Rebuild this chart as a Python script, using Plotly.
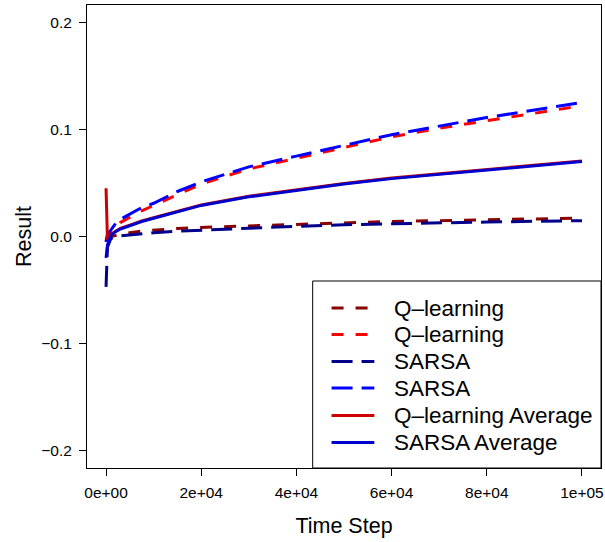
import plotly.graph_objects as go

# Time steps
t = [0, 300, 1000, 2000, 3000, 5000, 7500, 10000, 15000, 20000, 30000,
     40000, 50000, 60000, 70000, 80000, 90000, 100000]

q_run1 = [-0.003, -0.001, 0.0, 0.001, 0.002, 0.0035, 0.005, 0.006, 0.0075, 0.0085, 0.010,
          0.0115, 0.0128, 0.014, 0.0148, 0.0157, 0.0165, 0.0172]
q_run2 = [-0.005, 0.0, 0.004, 0.009, 0.013, 0.018, 0.024, 0.029, 0.039, 0.049, 0.063,
          0.073, 0.083, 0.093, 0.101, 0.108, 0.115, 0.122]
s_run1 = [-0.047, -0.01, -0.002, 0.0, 0.0005, 0.0015, 0.0025, 0.0035, 0.005, 0.006, 0.0078,
          0.0095, 0.011, 0.012, 0.0128, 0.0135, 0.0142, 0.0148]
s_run2 = [-0.005, 0.002, 0.006, 0.012, 0.016, 0.021, 0.027, 0.031, 0.042, 0.051, 0.065,
          0.075, 0.085, 0.095, 0.103, 0.111, 0.118, 0.125]
q_avg = [0.045, -0.003, 0.002, 0.005, 0.0075, 0.0105, 0.0145, 0.0175, 0.0235, 0.0295, 0.0375,
         0.0435, 0.0495, 0.0545, 0.0585, 0.0625, 0.0665, 0.0705]
s_avg = [-0.02, -0.008, 0.001, 0.0045, 0.007, 0.010, 0.014, 0.017, 0.023, 0.029, 0.037,
         0.043, 0.049, 0.054, 0.058, 0.062, 0.066, 0.070]

x_ticks = [0, 20000, 40000, 60000, 80000, 100000]
x_tick_labels = ["0e+00", "2e+04", "4e+04", "6e+04", "8e+04", "1e+05"]
y_ticks = [-0.2, -0.1, 0.0, 0.1, 0.2]
y_tick_labels = ["\u22120.2", "\u22120.1", "0.0", "0.1", "0.2"]

series = [
    ("Q\u2013learning", q_run1, "#8B0000", "12px,12px"),
    ("Q\u2013learning", q_run2, "#FF0000", "12px,12px"),
    ("SARSA", s_run1, "#00008B", "21px,9px"),
    ("SARSA", s_run2, "#0000FF", "21px,9px"),
    ("Q\u2013learning Average", q_avg, "#CD0000", "solid"),
    ("SARSA Average", s_avg, "#0000CD", "solid"),
]

FONT = "Liberation Sans, Arial, Helvetica, sans-serif"
W, H = 605, 542
L, R, T, B = 87, 1, 5, 74

fig = go.Figure()
for name, ys, col, dash in series:
    fig.add_trace(go.Scatter(x=t, y=ys, mode="lines", name=name, showlegend=False,
                             line=dict(color=col, width=3, dash=dash)))

# manual legend (R style, bottom-right)
pw, ph = W - L - R, H - T - B
def px(xp):
    return (xp - L) / pw
def py(yp):
    return (H - B - yp) / ph

shapes = [dict(type="rect", xref="paper", yref="paper", x0=px(314), x1=1.0,
               y0=0.0, y1=py(281), line=dict(color="black", width=1),
               fillcolor="white", layer="above")]
annotations = []
row_y = [308, 334.5, 361.5, 388, 415.5, 442.5]
for (name, ys, col, dash), ry in zip(series, row_y):
    shapes.append(dict(type="line", xref="paper", yref="paper", x0=px(333), x1=px(376),
                       y0=py(ry), y1=py(ry), line=dict(color=col, width=3, dash=dash),
                       layer="above"))
    annotations.append(dict(xref="paper", yref="paper", x=px(394), y=py(ry), text=name,
                            showarrow=False, xanchor="left", yanchor="middle",
                            font=dict(family=FONT, size=22.5, color="black")))

fig.update_layout(
    width=W, height=H,
    margin=dict(l=L, r=R, t=T, b=B, pad=0),
    paper_bgcolor="white", plot_bgcolor="white",
    font=dict(family=FONT, color="black"),
    shapes=shapes, annotations=annotations,
    xaxis=dict(range=[-4000, 104000], tickvals=x_ticks, ticktext=x_tick_labels,
               showgrid=False, zeroline=False, showline=True, mirror=True,
               linecolor="black", linewidth=1, ticks="outside", ticklen=7,
               tickcolor="black", tickwidth=1, tickfont=dict(size=15.5),
               ticklabelstandoff=3, ticklabeloverflow="allow",
               title=dict(text="Time Step", font=dict(size=21.5), standoff=18)),
    yaxis=dict(range=[-0.216, 0.216], tickvals=y_ticks, ticktext=y_tick_labels,
               showgrid=False, zeroline=False, showline=True, mirror=True,
               linecolor="black", linewidth=1, ticks="outside", ticklen=7,
               tickcolor="black", tickwidth=1, tickfont=dict(size=15.5),
               ticklabelstandoff=4,
               title=dict(text="Result", font=dict(size=21.5), standoff=3)),
)

fig.write_html("out.html")
